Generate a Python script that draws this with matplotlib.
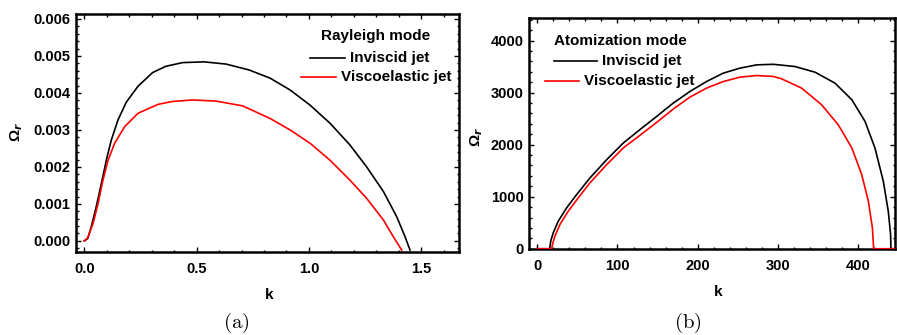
import numpy as np
import matplotlib
matplotlib.use('Agg')
from matplotlib import pyplot as plt
from matplotlib.ticker import MultipleLocator, FormatStrFormatter

plt.rcParams.update({'font.family': 'Liberation Sans',
                     'font.weight': 'bold',
                     'axes.labelweight': 'bold'})

# Rayleigh mode growth rates
k_ray_inv = [0.0, 0.015, 0.031, 0.053, 0.076, 0.098, 0.12, 0.15, 0.187, 0.239, 0.304,
             0.363, 0.438, 0.534, 0.631, 0.734, 0.827, 0.916, 1.005, 1.094, 1.183,
             1.257, 1.332, 1.391, 1.428, 1.45]
om_ray_inv = [0.0, 0.00006, 0.00038, 0.00092, 0.00155, 0.00218, 0.00272, 0.00327,
              0.00375, 0.00418, 0.00455, 0.00472, 0.00482, 0.00484, 0.00478, 0.00462,
              0.0044, 0.00408, 0.00367, 0.00318, 0.00259, 0.002, 0.00133, 0.00065,
              0.00011, -0.00025]
k_ray_vis = [0.0, 0.016, 0.039, 0.061, 0.083, 0.106, 0.135, 0.18, 0.239, 0.328, 0.393,
             0.482, 0.586, 0.705, 0.827, 0.916, 1.005, 1.094, 1.183, 1.257, 1.332,
             1.376, 1.413]
om_ray_vis = [0.0, 0.00009, 0.00047, 0.001, 0.00164, 0.00218, 0.00264, 0.00309,
              0.00345, 0.00369, 0.00377, 0.00381, 0.00378, 0.00365, 0.00331, 0.003,
              0.00264, 0.00218, 0.00164, 0.00115, 0.00056, 0.00011, -0.00025]

# Atomization mode growth rates
k_ato_inv = [0, 15.5, 17, 20, 26.2, 36.6, 49.1, 65.7, 86.5, 107.2, 128, 148.8, 169.5,
             190.3, 211, 231.8, 252.6, 273.4, 294, 321, 346, 371, 392, 408.4, 420.8,
             431.2, 437.4, 440.3, 440.7, 446]
om_ato_inv = [0, 0, 160, 307, 530, 786, 1041, 1361, 1712, 2032, 2290, 2543, 2800, 3023,
              3214, 3375, 3471, 3534, 3545, 3503, 3394, 3183, 2864, 2448, 1937, 1298,
              722, 275, 0, 0]
k_ato_vis = [0, 17.9, 19.5, 22, 28.3, 38.6, 51.1, 65.7, 86.5, 107.2, 128, 148.8, 169.5,
             190.3, 211, 231.8, 252.6, 273.4, 294, 304.5, 329.4, 354.3, 375, 392, 404.3,
             412.6, 417.6, 419.2, 446]
om_ato_vis = [0, 0, 110, 242, 466, 721, 978, 1266, 1617, 1937, 2180, 2428, 2685, 2915,
              3087, 3214, 3298, 3329, 3312, 3266, 3087, 2768, 2384, 1937, 1425, 914, 403,
              0, 0]

LABELS = ['Inviscid jet', 'Viscoelastic jet']

fig = plt.figure(figsize=(8.97, 3.35), dpi=100)
ax1 = fig.add_axes([0.0847, 0.2478, 0.427, 0.710])
ax2 = fig.add_axes([0.5897, 0.2567, 0.408, 0.6896])


def style(ax):
    for s in ax.spines.values():
        s.set_linewidth(1.8)
    ax.tick_params(which='both', direction='in', top=True, right=True,
                   labelsize=10.5, width=1)
    ax.tick_params(which='major', length=3.5, pad=4)
    ax.tick_params(which='minor', length=1.8)
    ax.tick_params(axis='x', pad=7)


# (a) Rayleigh mode
ax1.plot(k_ray_inv, om_ray_inv, color='black', lw=1.2)
ax1.plot(k_ray_vis, om_ray_vis, color='#ff0000', lw=1.2)
ax1.set_xlim(-0.037, 1.668)
ax1.set_ylim(-0.0003, 0.00613)
ax1.xaxis.set_major_locator(MultipleLocator(0.5))
ax1.xaxis.set_minor_locator(MultipleLocator(0.1))
ax1.yaxis.set_major_locator(MultipleLocator(0.001))
ax1.yaxis.set_minor_locator(MultipleLocator(0.0002))
ax1.xaxis.set_major_formatter(FormatStrFormatter('%.1f'))
ax1.yaxis.set_major_formatter(FormatStrFormatter('%.3f'))
style(ax1)

ax1.text(0.783, 0.908, 'Rayleigh mode', transform=ax1.transAxes, fontsize=11,
         ha='center', va='center')
ax1.plot([0.611, 0.702], [0.815, 0.815], color='black', lw=1.2, transform=ax1.transAxes)
ax1.text(0.715, 0.815, LABELS[0], transform=ax1.transAxes, fontsize=11, va='center')
ax1.plot([0.587, 0.679], [0.735, 0.735], color='#ff0000', lw=1.2, transform=ax1.transAxes)
ax1.text(0.693, 0.735, LABELS[1], transform=ax1.transAxes, fontsize=11, va='center')

# (b) Atomization mode -- drawn over the frame so the zero stretches show
ax2.plot(k_ato_inv, om_ato_inv, color='black', lw=1.2, zorder=3)
ax2.plot(k_ato_vis, om_ato_vis, color='#ff0000', lw=1.2, zorder=3)
ax2.set_xlim(-10.3, 445.7)
ax2.set_ylim(-5, 4435)
ax2.xaxis.set_major_locator(MultipleLocator(100))
ax2.xaxis.set_minor_locator(MultipleLocator(20))
ax2.yaxis.set_major_locator(MultipleLocator(1000))
ax2.yaxis.set_minor_locator(MultipleLocator(200))
style(ax2)

ax2.text(0.068, 0.900, 'Atomization mode', transform=ax2.transAxes, fontsize=11,
         ha='left', va='center')
ax2.plot([0.068, 0.186], [0.814, 0.814], color='black', lw=1.2, transform=ax2.transAxes)
ax2.text(0.199, 0.814, LABELS[0], transform=ax2.transAxes, fontsize=11, va='center')
ax2.plot([0.044, 0.137], [0.727, 0.727], color='#ff0000', lw=1.2, transform=ax2.transAxes)
ax2.text(0.150, 0.727, LABELS[1], transform=ax2.transAxes, fontsize=11, va='center')

for ax, kx, ky, ox, oy in [(ax1, 0.504, -0.18, -0.154, 0.504),
                           (ax2, 0.516, -0.186, -0.142, 0.485)]:
    ax.set_xlabel('k', fontsize=11, fontweight='bold')
    ax.set_ylabel('Ω$_r$', fontsize=11, fontweight='bold')
    ax.xaxis.set_label_coords(kx, ky)
    ax.xaxis.label.set_va('center')
    ax.yaxis.set_label_coords(ox, oy)
    ax.yaxis.label.set_va('center')

fig.text(0.263, 0.036, r'$\mathrm{(a)}$', fontsize=15, ha='center', va='center',
         math_fontfamily='cm')
fig.text(0.767, 0.036, r'$\mathrm{(b)}$', fontsize=15, ha='center', va='center',
         math_fontfamily='cm')

fig.savefig('out.png', dpi=100)
